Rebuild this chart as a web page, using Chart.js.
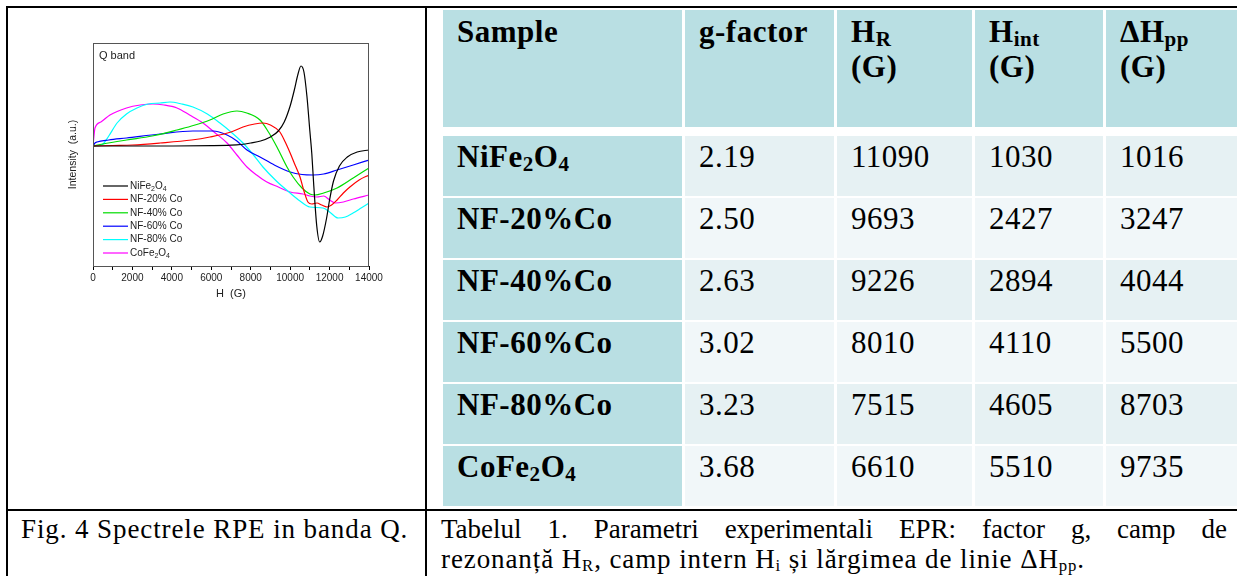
<!DOCTYPE html>
<html>
<head>
<meta charset="utf-8">
<script src="https://cdn.jsdelivr.net/npm/chart.js@4.4.0/dist/chart.umd.min.js"></script>
<style>
html, body { margin: 0; padding: 0; background: #fff; }
body { width: 1237px; height: 576px; position: relative; overflow: hidden;
       font-family: "Liberation Serif", "Times New Roman", serif; color: #000; }
.ln { position: absolute; background: #000; }
.cell { position: absolute; box-sizing: border-box; font-size: 31px; line-height: 35px; padding: 3px 0 0 14px; letter-spacing: 0.5px; }
.cell sub { font-size: 0.68em; vertical-align: -0.2em; line-height: 0; }
.hd { background: #b9dfe3; font-weight: bold; padding-top: 4px; }
.odd { background: #e6f1f3; }
.even { background: #f1f7f9; }
.cap { position: absolute; font-size: 27px; line-height: 30px; height: 30px; white-space: nowrap; letter-spacing: 0.9px; }
.cap sub { font-size: 0.62em; vertical-align: -0.15em; line-height: 0; }
#chartBox { position: absolute; left: 40px; top: 33px; }
</style>
</head>
<body>
<div class="ln" style="left:6px;top:6px;width:1231px;height:2px"></div>
<div class="ln" style="left:6px;top:6px;width:2px;height:570px"></div>
<div class="ln" style="left:425px;top:6px;width:2px;height:570px"></div>
<div class="ln" style="left:6px;top:509px;width:1231px;height:2px"></div>

<canvas id="chartBox" width="360" height="277"></canvas>
<div id="table"></div>

<div class="cap" style="left:21px;top:514px">Fig. 4 Spectrele RPE in banda Q.</div>
<div class="cap" style="left:441px;top:514px;width:786px;text-align:justify;text-align-last:justify;white-space:normal;letter-spacing:0">Tabelul 1. Parametri experimentali EPR: factor g, camp de</div>
<div class="cap" style="left:441px;top:544px">rezonanță H<sub>R</sub>, camp intern H<sub>i</sub> și lărgimea de linie ΔH<sub>pp</sub>.</div>

<script>
// spectra (intensity in arbitrary units)
const hNiFe = [0, 2000, 4000, 6000, 7000, 7500, 8000, 8500, 9000, 9400, 9700, 10000, 10200, 10400, 10550, 10700, 10850, 11000, 11100, 11200, 11350, 11500, 11650, 11850, 12000, 12200, 12500, 12900, 13400, 14000];
const vNiFe = [0, 0, 0, 0.3, 0.8, 1.5, 3, 5, 9, 15, 24, 40, 55, 72, 80, 74, 50, 15, -8, -40, -80, -96, -90, -72, -54, -35, -20, -11, -6, -4];

const hNF20 = [0, 1000, 2000, 3400, 5000, 5930, 7000, 7610, 8200, 8620, 9000, 9480, 9750, 10000, 10250, 10500, 10700, 10900, 11100, 11360, 11600, 11870, 12100, 12380, 12700, 13030, 13500, 14000];
const vNF20 = [0, 0.5, 1, 3, 6, 9, 14, 19, 22, 23, 21, 14, 4, -7, -19, -31, -45, -56, -58, -57, -59, -61, -59, -54, -47, -41, -34, -29];

const hNF40 = [0, 500, 1700, 3000, 4260, 5000, 5930, 6600, 7300, 7800, 8470, 8900, 9330, 9840, 10150, 10600, 11000, 11260, 11700, 12380, 13200, 14000];
const vNF40 = [0, 2, 6, 10, 16, 20, 26, 32, 35, 33, 26, 14, -1, -21, -31, -42, -48, -49, -47, -42, -32, -22];

const hNF60 = [0, 100, 200, 800, 1700, 3400, 5070, 6090, 6800, 7300, 7810, 8470, 9200, 10000, 10600, 11160, 11700, 12380, 13200, 14000];
const vNF60 = [0, 3, 4, 6, 8, 12, 15, 15, 11, 5, -4, -11, -19, -26, -28.5, -29, -28, -24, -19, -14];

const hNF80 = [0, 250, 510, 800, 1220, 1700, 2230, 2800, 3400, 3900, 4500, 5070, 5800, 6440, 7000, 7610, 8100, 8620, 9300, 10000, 10500, 11000, 11670, 12000, 12430, 12800, 13190, 13600, 14000];
const vNF80 = [0, 0, 2, 10, 23, 32, 38, 42, 43, 44, 42, 39, 32, 23, 14, 3, -8, -21, -35, -47, -55, -61, -62, -66, -72, -71, -67, -62, -57];

const hCoFe = [0, 60, 100, 400, 860, 1700, 2400, 3040, 3600, 4260, 4900, 5580, 6200, 6800, 7300, 7810, 8300, 8820, 9400, 10000, 10650, 11000, 11360, 11700, 12000, 12280, 12700, 13200, 14000];
const vCoFe = [0, 12, 18, 24, 31, 38, 41, 42, 41, 38, 31, 23, 13, 3, -9, -21, -29, -36, -41, -46, -48, -50, -51, -50, -54, -57, -56, -53, -49];

const seriesNames = ['NiFe2O4', 'NF-20% Co', 'NF-40% Co', 'NF-60% Co', 'NF-80% Co', 'CoFe2O4'];
const seriesColors = ['#000000', '#ff0000', '#00dd00', '#0000ff', '#00ffff', '#ff00ff'];
const xTicks = [0, 2000, 4000, 6000, 8000, 10000, 12000, 14000];

// table values
const headers = ['Sample', 'g-factor', 'H<sub>R</sub><br>(G)', 'H<sub>int</sub><br>(G)', 'ΔH<sub>pp</sub><br>(G)'];
const samples = ['NiFe2O4', 'NF-20%Co', 'NF-40%Co', 'NF-60%Co', 'NF-80%Co', 'CoFe2O4'];
const gFactor = ['2.19', '2.50', '2.63', '3.02', '3.23', '3.68'];
const hRes = [11090, 9693, 9226, 8010, 7515, 6610];
const hInt = [1030, 2427, 2894, 4110, 4605, 5510];
const dHpp = [1016, 3247, 4044, 5500, 8703, 9735];

const chem = s => s.replace(/([A-Za-z])(\d+)/g, '$1<sub>$2</sub>');

// table layout
const colL = [443, 685, 837, 975, 1106];
const colR = [682, 834, 972, 1103, 1240];
const tbl = document.getElementById('table');
let html = '';
headers.forEach((h, c) => {
    html += `<div class="cell hd" style="left:${colL[c]}px;top:10px;width:${colR[c]-colL[c]}px;height:117px">${h}</div>`;
});
samples.forEach((s, r) => {
    const top = 136 + r * 62;
    const cls = r % 2 === 0 ? 'odd' : 'even';
    const vals = [chem(s), gFactor[r], hRes[r], hInt[r], dHpp[r]];
    vals.forEach((v, c) => {
        const k = c === 0 ? 'hd' : cls;
        html += `<div class="cell ${k}" style="left:${colL[c]}px;top:${top}px;width:${colR[c]-colL[c]}px;height:60px;${c===0?'padding-top:3px':''}">${v}</div>`;
    });
});
tbl.innerHTML = html;

// draws text with chemical subscripts on canvas
function drawChem(ctx, text, x, y, size) {
    const re = /([A-Za-z])(\d+)/g;
    const segs = [];
    let last = 0, m;
    while ((m = re.exec(text))) {
        segs.push({ t: text.slice(last, m.index + 1), sub: false });
        segs.push({ t: m[2], sub: true });
        last = m.index + m[0].length;
    }
    segs.push({ t: text.slice(last), sub: false });
    segs.forEach(sg => {
        const fs = sg.sub ? size * 0.7 : size;
        ctx.font = fs + 'px "Liberation Sans", Arial, sans-serif';
        ctx.fillText(sg.t, x, y + (sg.sub ? size * 0.3 : 0));
        x += ctx.measureText(sg.t).width;
    });
}

const framePlugin = {
    id: 'frame',
    afterDatasetsDraw(chart) {
        const { ctx, chartArea: a } = chart;
        ctx.save();
        ctx.strokeStyle = '#555';
        ctx.lineWidth = 1;
        ctx.strokeRect(a.left + 0.5, a.top + 0.5, a.right - a.left - 1, a.bottom - a.top);
        ctx.fillStyle = '#222';
        ctx.textBaseline = 'middle';
        ctx.font = '11px "Liberation Sans", Arial, sans-serif';
        ctx.fillText('Q band', a.left + 6, a.top + 13);
        // legend inside plot, lower left
        chart.data.datasets.forEach((ds, i) => {
            const y = 153 + i * 13.4;
            ctx.strokeStyle = ds.borderColor;
            ctx.lineWidth = 1.2;
            ctx.beginPath();
            ctx.moveTo(a.left + 10, y);
            ctx.lineTo(a.left + 35, y);
            ctx.stroke();
            ctx.fillStyle = '#222';
            drawChem(ctx, ds.label, a.left + 37, y, 10);
        });
        ctx.restore();
    }
};

const spectra = [
    [hNiFe, vNiFe], [hNF20, vNF20], [hNF40, vNF40],
    [hNF60, vNF60], [hNF80, vNF80], [hCoFe, vCoFe]
];

new Chart(document.getElementById('chartBox').getContext('2d'), {
    type: 'line',
    data: {
        datasets: spectra.map(([hs, vs], i) => ({
            label: seriesNames[i],
            data: hs.map((h, j) => ({ x: h, y: vs[j] })),
            borderColor: seriesColors[i],
            borderWidth: 1.2,
            pointRadius: 0,
            fill: false,
            cubicInterpolationMode: 'monotone'
        }))
    },
    options: {
        responsive: false,
        animation: false,
        layout: { padding: { top: 10, right: 31, left: 0, bottom: 0 } },
        plugins: { legend: { display: false }, tooltip: { enabled: false } },
        scales: {
            x: {
                type: 'linear',
                min: 0,
                max: 14000,
                afterFit: s => { s.height = 44; s.paddingLeft = 0; s.paddingRight = 0; },
                afterBuildTicks: s => { s.ticks = []; for (let v = 0; v <= 14000; v += 1000) s.ticks.push({ value: v }); },
                ticks: {
                    autoSkip: false,
                    maxRotation: 0,
                    padding: 2,
                    color: '#222',
                    font: { family: '"Liberation Sans", Arial, sans-serif', size: 10 },
                    callback: v => xTicks.includes(v) ? String(v) : ''
                },
                grid: { drawOnChartArea: false, drawTicks: true, tickLength: 4, tickColor: '#000' },
                border: { color: '#000', width: 1 },
                title: {
                    display: true,
                    text: 'H  (G)',
                    color: '#222',
                    font: { family: '"Liberation Sans", Arial, sans-serif', size: 11 },
                    padding: { top: 0, bottom: 9 }
                }
            },
            y: {
                min: -120,
                max: 103,
                afterFit: s => { s.width = 53; },
                ticks: { display: false },
                grid: { display: false, drawTicks: false },
                border: { color: '#000', width: 1 },
                title: {
                    display: true,
                    text: 'Intensity  (a.u.)',
                    color: '#222',
                    font: { family: '"Liberation Sans", Arial, sans-serif', size: 10.5 },
                    padding: { top: 27, bottom: 0 }
                }
            }
        }
    },
    plugins: [framePlugin]
});
</script>
</body>
</html>
